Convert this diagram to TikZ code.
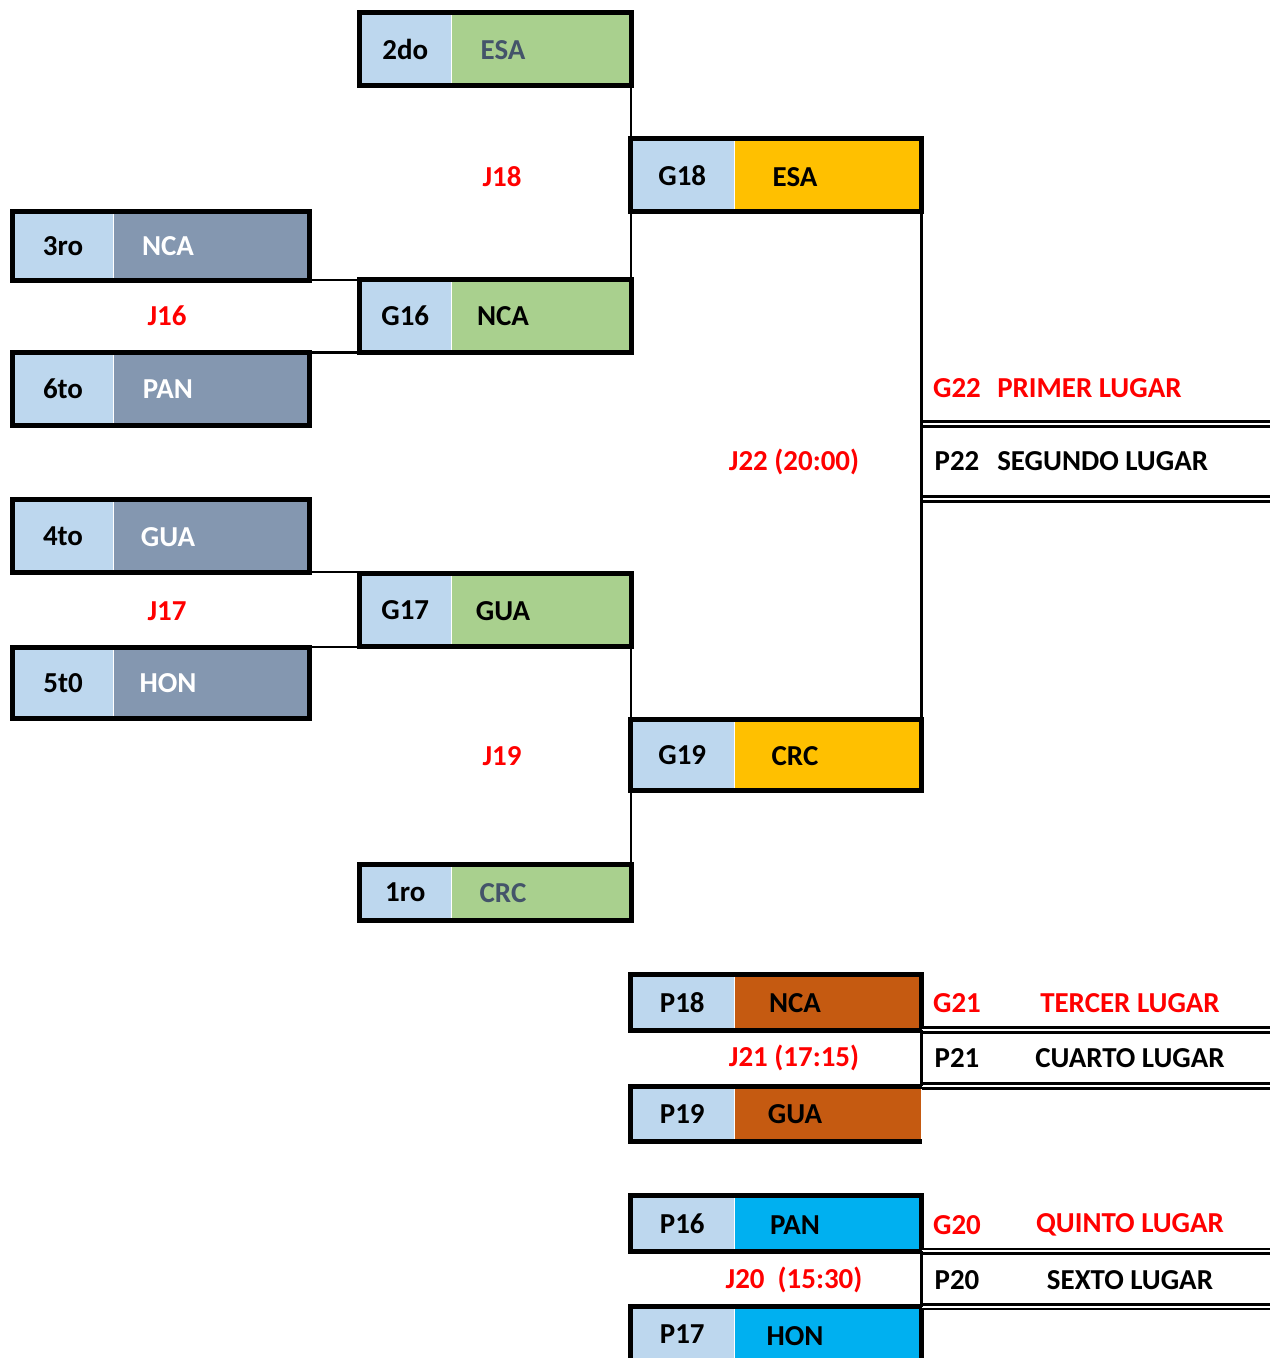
\documentclass[tikz,border=0pt]{standalone}
\usepackage{fontspec}
\setmainfont{Carlito}
\definecolor{seedblue}{HTML}{BDD7EE}
\definecolor{teamgreen}{HTML}{A9D08E}
\definecolor{teamgray}{HTML}{8497B0}
\definecolor{teamgold}{HTML}{FFC000}
\definecolor{teambrown}{HTML}{C55A11}
\definecolor{teamcyan}{HTML}{00B0F0}
\definecolor{slate}{HTML}{44546A}
\definecolor{jred}{HTML}{FF0000}

\begin{document}
\begin{tikzpicture}[x=0.75pt,y=0.75pt,yscale=-1,xscale=1,
  font=\fontsize{21.7}{26}\selectfont\bfseries,
  cell/.style={inner sep=0pt, anchor=north west, minimum height=54pt},
  seedA/.style={cell, fill=seedblue, minimum width=75.4pt},
  seedB/.style={cell, fill=seedblue, minimum width=69pt},
  seedC/.style={cell, fill=seedblue, minimum width=78pt},
  teamA/.style={cell, fill=teamgray, minimum width=146.25pt},
  teamB/.style={cell, fill=teamgreen, minimum width=134.25pt},
  teamC/.style={cell, minimum width=139.9pt},
  frame/.style={line width=3.75pt},
  link/.style={line width=1.8pt},
  rule/.style={double, line width=1.9pt, double distance=1.5pt},
  jtext/.style={text=jred, inner sep=0pt},
  ptext/.style={inner sep=0pt}]
\useasboundingbox (0,0) rectangle (1270,1358);

% Left column boxes
\node[seedA, minimum height=51pt] (s3ro) at (12.5,211.5) {3ro};
\node[teamA, minimum height=51pt] (t3ro) at (s3ro.north east) {};
\node[text=white] (n3ro) at (168,246) {NCA};
\draw[frame] (s3ro.north west) rectangle (t3ro.south east);

\node[seedA] (s6to) at (12.5,352.5) {6to};
\node[teamA] (t6to) at (s6to.north east) {};
\node[text=white] (n6to) at (168,389) {PAN};
\draw[frame] (s6to.north west) rectangle (t6to.south east);

\node[seedA] (s4to) at (12.5,499.5) {4to};
\node[teamA] (t4to) at (s4to.north east) {};
\node[text=white] (n4to) at (168,537) {GUA};
\draw[frame] (s4to.north west) rectangle (t4to.south east);

\node[seedA, minimum height=53.25pt] (s5t0) at (12.5,647) {5t0};
\node[teamA, minimum height=53.25pt] (t5t0) at (s5t0.north east) {};
\node[text=white] (n5t0) at (168,683) {HON};
\draw[frame] (s5t0.north west) rectangle (t5t0.south east);

% Middle column boxes
\node[seedB] (s2do) at (359,13) {2do};
\node[teamB] (t2do) at (s2do.north east) {};
\node[text=slate] (n2do) at (503,50) {ESA};
\draw[frame] (s2do.north west) rectangle (t2do.south east);

\node[seedB] (sg16) at (359,279.8) {G16};
\node[teamB] (tg16) at (sg16.north east) {};
\node (ng16) at (503,316) {NCA};
\draw[frame] (sg16.north west) rectangle (tg16.south east);

\node[seedB] (sg17) at (359,573.5) {G17};
\node[teamB] (tg17) at (sg17.north east) {};
\node (ng17) at (503,611) {GUA};
\draw[frame] (sg17.north west) rectangle (tg17.south east);

\node[seedB, minimum height=41.25pt] (s1ro) at (359,864.5) {1ro};
\node[teamB, minimum height=41.25pt] (t1ro) at (s1ro.north east) {};
\node[text=slate] (n1ro) at (503,893) {CRC};
\draw[frame] (s1ro.north west) rectangle (t1ro.south east);

% Right column boxes
\node[seedC, minimum height=54.5pt] (sg18) at (630,138.8) {G18};
\node[teamC, fill=teamgold, minimum height=54.5pt] (tg18) at (sg18.north east) {};
\node (ng18) at (795,177) {ESA};
\draw[frame] (sg18.north west) rectangle (tg18.south east);

\node[seedC, minimum height=52.9pt] (sg19) at (630,719.5) {G19};
\node[teamC, fill=teamgold, minimum height=52.9pt] (tg19) at (sg19.north east) {};
\node (ng19) at (795,756) {CRC};
\draw[frame] (sg19.north west) rectangle (tg19.south east);

\node[seedC, minimum height=41pt] (sp18) at (630,974.8) {P18};
\node[teamC, fill=teambrown, minimum height=41pt] (tp18) at (sp18.north east) {};
\node (np18) at (795,1003) {NCA};
\draw[frame] (sp18.north west) rectangle (tp18.south east);

\node[seedC, minimum height=40.9pt] (sp19) at (630,1086) {P19};
\node[teamC, fill=teambrown, minimum height=40.9pt] (tp19) at (sp19.north east) {};
\node (np19) at (795,1114) {GUA};
\draw[frame] (tp19.north east) -- (sp19.north west) -- (sp19.south west) -- (tp19.south east);

\node[seedC, minimum height=41.25pt] (sp16) at (630,1195.8) {P16};
\node[teamC, fill=teamcyan, minimum height=41.25pt] (tp16) at (sp16.north east) {};
\node (np16) at (795,1225) {PAN};
\draw[frame] (sp16.north west) rectangle (tp16.south east);

\node[seedC, minimum height=41.25pt] (sp17) at (630,1306.7) {P17};
\node[teamC, fill=teamcyan, minimum height=41.25pt] (tp17) at (sp17.north east) {};
\node (np17) at (795,1336) {HON};
\draw[frame] (sp17.south west) -- (sp17.north west) -- (tp17.north east) -- (tp17.south east);

% Connectors
\draw[link] (t3ro.south east) -- (t3ro.south east -| sg16.west);
\draw[link] (t6to.north east) -- (t6to.north east -| sg16.west);
\draw[link] (t4to.south east) -- (t4to.south east -| sg17.west);
\draw[link] (t5t0.north east) -- (t5t0.north east -| sg17.west);
\draw[link] (t2do.south east) -- (tg16.north east);
\draw[link] (tg17.south east) -- (t1ro.north east);

% Placement rules
\coordinate (rim) at (1270,0);
\coordinate (row1) at (1270,424);
\coordinate (row2) at (1270,499);
\draw[rule] (tg18.east |- row1) -- (row1);
\draw[rule] (tg18.east |- row2) -- (row2);
\draw[rule] (tp18.south east) -- (tp18.south east -| rim);
\draw[rule] (tp19.north east) -- (tp19.north east -| rim);
\draw[rule] (tp16.south east) -- (tp16.south east -| rim);
\draw[rule] (tp17.north east) -- (tp17.north east -| rim);
\draw[link] (tg18.south east) -- (tg19.north east);
\draw[link] (tp18.south east) -- (tp19.north east);
\draw[link] (tp16.south east) -- (tp17.north east);

% Match labels
\node[jtext] (j18) at (502,177) {J18};
\node[jtext] (j16) at (167,316) {J16};
\node[jtext] (j17) at (167,611) {J17};
\node[jtext] (j19) at (502,756) {J19};
\node[jtext] (j22) at (794,462) {J22 (20:00)};
\node[jtext] (j21) at (794,1058) {J21 (17:15)};
\node[jtext] (j20) at (794,1280) {J20~~(15:30)};

% Places
\node[jtext] (g22) at (957,388) {G22};
\node[jtext, anchor=west] (l1) at (997,388) {PRIMER LUGAR};
\node[ptext] (p22) at (957,461) {P22};
\node[ptext, anchor=west] (l2) at (997,461) {SEGUNDO LUGAR};
\node[jtext] (g21) at (957,1003) {G21};
\node[jtext] (l3) at (1130,1003) {TERCER LUGAR};
\node[ptext] (p21) at (957,1058) {P21};
\node[ptext] (l4) at (1130,1058) {CUARTO LUGAR};
\node[jtext] (g20) at (957,1225) {G20};
\node[jtext] (l5) at (1130,1225) {QUINTO LUGAR};
\node[ptext] (p20) at (957,1280) {P20};
\node[ptext] (l6) at (1130,1280) {SEXTO LUGAR};

\end{tikzpicture}
\end{document}
